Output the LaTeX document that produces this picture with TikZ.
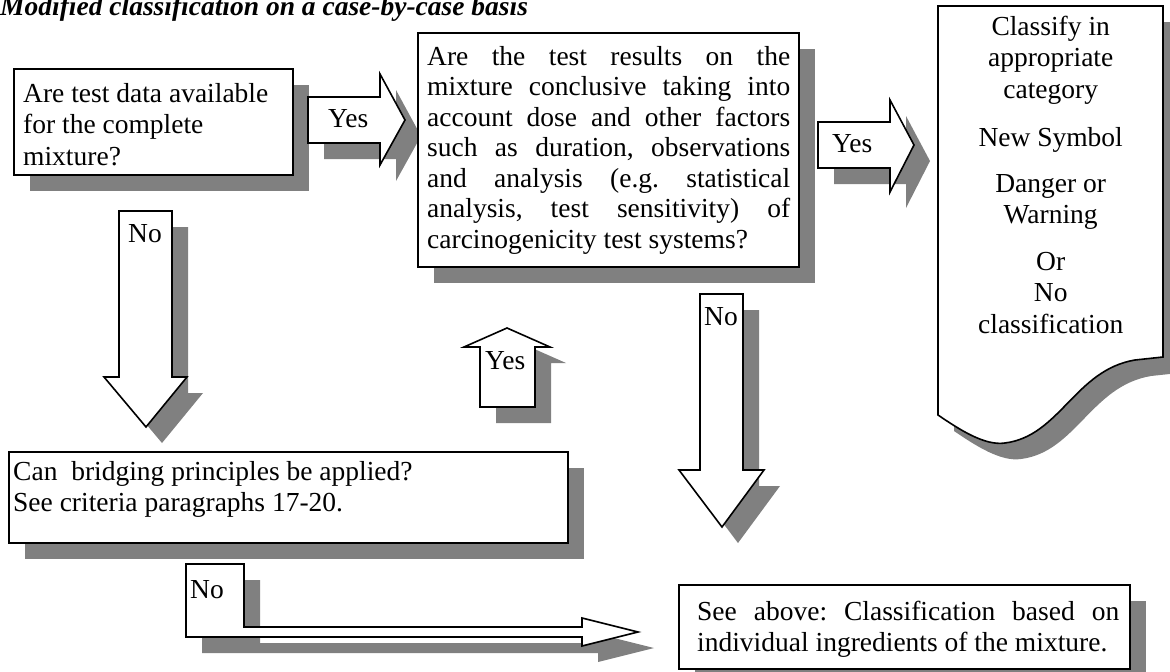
\documentclass[tikz,border=0pt]{standalone}
\usepackage{fontspec}
\setmainfont{Liberation Serif}
\frenchspacing
\begin{document}
\begin{tikzpicture}[x=1pt,y=-1pt,
  shadowfill/.style={fill=black!50,draw=none,shift={(16,16)}},
  blockshape/.style={fill=white,draw=black,line width=1.6pt,line join=miter},
  txt/.style={inner sep=0pt,anchor=base west,font=\fontsize{27.5pt}{31.5pt}\selectfont},
  txttwo/.style={inner sep=0pt,anchor=base west,font=\fontsize{27.5pt}{30.5pt}\selectfont}]
\useasboundingbox (0,0) rectangle (1170,672);
% ---------- shadows ----------
\fill[shadowfill] (14,69) rectangle (293,175);
\fill[shadowfill] (308,97) -- (380,97) -- (380,74) -- (405,120) -- (380,165) -- (380,143) -- (308,143) -- cycle;
\fill[shadowfill] (418,33) rectangle (799,267);
\fill[shadowfill] (818,122) -- (890,122) -- (890,100) -- (914,145) -- (890,192) -- (890,168) -- (818,168) -- cycle;
\fill[shadowfill] (938,6) -- (1163,6) -- (1163,357) -- (1135,360) .. controls (1075,370) and (1060,436) .. (1005,443) .. controls (985,446) and (960,430) .. (938,415) -- cycle;
\fill[shadowfill] (119,211) -- (172,211) -- (172,377) -- (187,377) -- (146,427) -- (104,377) -- (119,377) -- cycle;
\fill[shadowfill] (480,407) -- (535,407) -- (535,347) -- (550,347) -- (507,328) -- (464,347) -- (480,347) -- cycle;
\fill[shadowfill] (700,294) -- (743,294) -- (743,470) -- (764,470) -- (722,527) -- (679,470) -- (700,470) -- cycle;
\fill[shadowfill] (9,452) rectangle (568,543);
\fill[shadowfill] (186,564) -- (244,564) -- (244,627) -- (582,627) -- (582,618) -- (638,632) -- (582,646) -- (582,637) -- (186,637) -- cycle;
\fill[shadowfill] (679,585) rectangle (1130,669);
% ---------- shapes ----------
\filldraw[blockshape] (14,69) rectangle (293,175);
\filldraw[blockshape] (308,97) -- (380,97) -- (380,74) -- (405,120) -- (380,165) -- (380,143) -- (308,143) -- cycle;
\filldraw[blockshape] (418,33) rectangle (799,267);
\filldraw[blockshape] (818,122) -- (890,122) -- (890,100) -- (914,145) -- (890,192) -- (890,168) -- (818,168) -- cycle;
\filldraw[blockshape] (938,6) -- (1163,6) -- (1163,357) -- (1135,360) .. controls (1075,370) and (1060,436) .. (1005,443) .. controls (985,446) and (960,430) .. (938,415) -- cycle;
\filldraw[blockshape] (119,211) -- (172,211) -- (172,377) -- (187,377) -- (146,427) -- (104,377) -- (119,377) -- cycle;
\filldraw[blockshape] (480,407) -- (535,407) -- (535,347) -- (550,347) -- (507,328) -- (464,347) -- (480,347) -- cycle;
\filldraw[blockshape] (700,294) -- (743,294) -- (743,470) -- (764,470) -- (722,527) -- (679,470) -- (700,470) -- cycle;
\filldraw[blockshape] (9,452) rectangle (568,543);
\filldraw[blockshape] (186,564) -- (244,564) -- (244,627) -- (582,627) -- (582,618) -- (638,632) -- (582,646) -- (582,637) -- (186,637) -- cycle;
\filldraw[blockshape] (679,585) rectangle (1130,669);
% ---------- texts ----------
\node[txt,font=\fontsize{27.5pt}{31.5pt}\selectfont\bfseries\itshape] (title) at (0,15) {Modified classification on a case-by-case basis};
\node[txt] (q1) at (23,102) {\parbox[t]{265pt}{\raggedright Are test data available\\for the complete\\mixture?}};
\node[txt] (yes1) at (328,127) {Yes};
\node[txttwo] (q2) at (427,65) {\parbox[t]{363pt}{\hyphenpenalty=10000 Are the test results on the\linebreak mixture conclusive taking into\linebreak account dose and other factors\linebreak such as duration, observations\linebreak and analysis (e.g. statistical\linebreak analysis, test sensitivity) of\linebreak carcinogenicity test systems?}};
\node[txt] (yes2) at (832,152) {Yes};
\node[txt] (res) at (938,35) {\parbox[t]{225pt}{\centering Classify in\\appropriate\\category\\[17pt]New Symbol\\[14pt]Danger or\\Warning\\[15pt]Or\\No\\classification}};
\node[txt] (no1) at (128,242) {No};
\node[txt] (yes3) at (485,369) {Yes};
\node[txt] (no2) at (704,325) {No};
\node[txt] (q3) at (13,480) {\parbox[t]{550pt}{\raggedright Can\ \ bridging principles be applied?\\See criteria paragraphs 17-20.}};
\node[txt] (no3) at (190,598) {No};
\node[txt] (q4) at (697,620) {\parbox[t]{422pt}{\hyphenpenalty=10000 See above: Classification based on\linebreak individual ingredients of the mixture.}};
\end{tikzpicture}
\end{document}
